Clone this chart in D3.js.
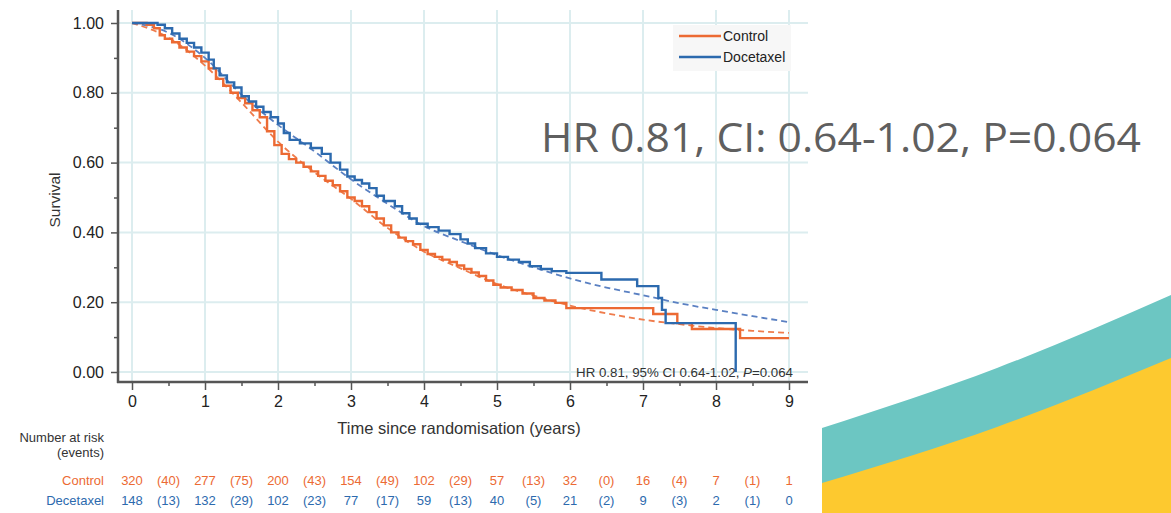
<!DOCTYPE html>
<html>
<head>
<meta charset="utf-8">
<script src="https://cdn.jsdelivr.net/npm/d3@7"></script>
<style>
  body { margin: 0; background: #fff; }
  svg { display: block; font-family: 'Liberation Sans', Arial, sans-serif; }
</style>
</head>
<body>
<svg id="chart" width="1171" height="513"></svg>
<script>
// Kaplan-Meier steps (years, survival)
let controlTimes = [0, 0.2, 0.3, 0.38, 0.45, 0.55, 0.65, 0.75, 0.85, 0.95, 1.05, 1.15, 1.25, 1.35, 1.45, 1.55, 1.65, 1.75, 1.85, 1.95, 2.05, 2.15, 2.25, 2.35, 2.45, 2.55, 2.65, 2.75, 2.85, 2.95, 3.05, 3.15, 3.25, 3.35, 3.45, 3.55, 3.65, 3.75, 3.85, 3.95, 4.05, 4.15, 4.25, 4.35, 4.45, 4.55, 4.65, 4.75, 4.85, 4.95, 5.05, 5.2, 5.35, 5.5, 5.65, 5.8, 5.95, 7.14, 7.47, 7.67, 8.33, 9.0]
let controlSurv = [1, 0.995, 0.985, 0.965, 0.955, 0.945, 0.93, 0.918, 0.905, 0.89, 0.87, 0.84, 0.82, 0.8, 0.785, 0.77, 0.75, 0.73, 0.69, 0.65, 0.625, 0.61, 0.6, 0.588, 0.575, 0.562, 0.548, 0.535, 0.518, 0.5, 0.49, 0.475, 0.458, 0.44, 0.42, 0.4, 0.385, 0.375, 0.366, 0.35, 0.338, 0.33, 0.322, 0.315, 0.305, 0.295, 0.285, 0.275, 0.262, 0.25, 0.242, 0.235, 0.225, 0.212, 0.205, 0.198, 0.183, 0.166, 0.14, 0.123, 0.097, 0.097]

let docetaxelTimes = [0, 0.35, 0.45, 0.55, 0.65, 0.75, 0.85, 0.95, 1.05, 1.12, 1.2, 1.3, 1.4, 1.5, 1.6, 1.7, 1.8, 1.9, 2.0, 2.08, 2.16, 2.3, 2.45, 2.6, 2.72, 2.85, 2.95, 3.05, 3.15, 3.25, 3.35, 3.45, 3.6, 3.7, 3.8, 3.9, 4.05, 4.2, 4.35, 4.5, 4.6, 4.7, 4.85, 5.0, 5.15, 5.3, 5.45, 5.6, 5.75, 5.95, 6.43, 6.92, 7.21, 7.26, 7.31, 8.27]
let docetaxelSurv = [1, 0.995, 0.985, 0.97, 0.955, 0.943, 0.93, 0.915, 0.895, 0.87, 0.85, 0.83, 0.815, 0.79, 0.775, 0.76, 0.745, 0.73, 0.712, 0.685, 0.665, 0.655, 0.642, 0.625, 0.6, 0.58, 0.56, 0.55, 0.54, 0.527, 0.505, 0.49, 0.475, 0.455, 0.44, 0.425, 0.415, 0.405, 0.395, 0.38, 0.368, 0.355, 0.34, 0.33, 0.322, 0.315, 0.303, 0.295, 0.289, 0.284, 0.265, 0.246, 0.212, 0.178, 0.14, 0]

// fitted (dashed) curves
let fitTimes = [0, 0.5, 1, 1.5, 2, 2.5, 3, 3.5, 4, 4.5, 5, 5.5, 6, 6.5, 7, 7.5, 8, 8.5, 9]
let controlFit = [1, 0.958, 0.878, 0.772, 0.66, 0.572, 0.496, 0.413, 0.345, 0.297, 0.252, 0.219, 0.19, 0.168, 0.15, 0.137, 0.126, 0.118, 0.112]
let docetaxelFit = [1, 0.972, 0.9, 0.795, 0.708, 0.632, 0.552, 0.482, 0.418, 0.375, 0.335, 0.3, 0.268, 0.242, 0.22, 0.197, 0.178, 0.16, 0.143]

// number at risk table
let riskYears = [0, 1, 2, 3, 4, 5, 6, 7, 8, 9]
let controlAtRisk = [320, 277, 200, 154, 102, 57, 32, 16, 7, 1]
let controlEvents = [40, 75, 43, 49, 29, 13, 0, 4, 1]
let docetaxelAtRisk = [148, 132, 102, 77, 59, 40, 21, 9, 2, 0]
let docetaxelEvents = [13, 29, 23, 17, 13, 5, 2, 3, 1]

let yTicks = [0, 0.2, 0.4, 0.6, 0.8, 1.0]
let yMinor = [0.1, 0.3, 0.5, 0.7, 0.9]
let xMinor = [0.5, 1.5, 2.5, 3.5, 4.5, 5.5, 6.5, 7.5, 8.5]

let orange = '#ec6a33'
let blue = '#2c6aae'

let svg = d3.select('#chart')

let xPositionScale = d3.scaleLinear().domain([0, 9]).range([132, 789])
let yPositionScale = d3.scaleLinear().domain([0, 1]).range([372, 23])

let plotLeft = 118
let plotRight = 808
let plotTop = 10
let plotBottom = 382

// decorative swoosh in the corner
let swoosh = d3.line().curve(d3.curveNatural)
let tealTop = [[822, 428], [997, 368], [1171, 295]]
let yellowTop = [[822, 483], [997, 427], [1171, 358]]
svg.append('path')
  .attr('d', swoosh(tealTop) + 'L1171,513L822,513Z')
  .attr('fill', '#6cc6c2')
svg.append('path')
  .attr('d', swoosh(yellowTop) + 'L1171,513L822,513Z')
  .attr('fill', '#fdc92f')

// grid
svg.append('g')
  .selectAll('line')
  .data(riskYears)
  .enter()
  .append('line')
  .attr('x1', d => xPositionScale(d))
  .attr('x2', d => xPositionScale(d))
  .attr('y1', plotTop)
  .attr('y2', plotBottom)
  .attr('stroke', '#dcedef')
  .attr('stroke-width', 2)

svg.append('g')
  .selectAll('line')
  .data(yTicks)
  .enter()
  .append('line')
  .attr('x1', plotLeft)
  .attr('x2', plotRight)
  .attr('y1', d => yPositionScale(d))
  .attr('y2', d => yPositionScale(d))
  .attr('stroke', '#dcedef')
  .attr('stroke-width', 2)

// legend box
svg.append('rect')
  .attr('x', 673)
  .attr('y', 25)
  .attr('width', 118)
  .attr('height', 46)
  .attr('fill', '#f7f7f7')

// curves
let step = d3.line()
  .x(d => xPositionScale(d[0]))
  .y(d => yPositionScale(d[1]))
  .curve(d3.curveStepAfter)

let smooth = d3.line()
  .x(d => xPositionScale(d[0]))
  .y(d => yPositionScale(d[1]))
  .curve(d3.curveMonotoneX)

svg.append('path')
  .datum(d3.zip(fitTimes, controlFit))
  .attr('d', smooth)
  .attr('fill', 'none')
  .attr('stroke', '#ef7c4c')
  .attr('stroke-width', 1.8)
  .attr('stroke-dasharray', '6 4')

svg.append('path')
  .datum(d3.zip(fitTimes, docetaxelFit))
  .attr('d', smooth)
  .attr('fill', 'none')
  .attr('stroke', '#5a80c2')
  .attr('stroke-width', 1.8)
  .attr('stroke-dasharray', '6 4')

svg.append('path')
  .datum(d3.zip(controlTimes, controlSurv))
  .attr('d', step)
  .attr('fill', 'none')
  .attr('stroke', orange)
  .attr('stroke-width', 2.4)

svg.append('path')
  .datum(d3.zip(docetaxelTimes, docetaxelSurv))
  .attr('d', step)
  .attr('fill', 'none')
  .attr('stroke', blue)
  .attr('stroke-width', 2.4)

// axes
let yAxis = d3.axisLeft(yPositionScale)
  .tickValues(yTicks)
  .tickFormat(d3.format('.2f'))
  .tickSize(7)
  .tickPadding(7)
let yAxisG = svg.append('g')
  .attr('transform', `translate(${plotLeft},0)`)
  .call(yAxis)
yAxisG.select('.domain').remove()
yAxisG.selectAll('line').attr('stroke', '#555').attr('stroke-width', 1.5)
yAxisG.selectAll('text').attr('font-size', 16).attr('fill', '#222').attr('font-family', 'Liberation Sans, Arial, sans-serif')

let yMinorAxis = d3.axisLeft(yPositionScale).tickValues(yMinor).tickSize(4).tickFormat('')
let yMinorG = svg.append('g').attr('transform', `translate(${plotLeft},0)`).call(yMinorAxis)
yMinorG.select('.domain').remove()
yMinorG.selectAll('line').attr('stroke', '#555').attr('stroke-width', 1.5)

let xAxis = d3.axisBottom(xPositionScale)
  .tickValues(riskYears)
  .tickFormat(d3.format('d'))
  .tickSize(8)
  .tickPadding(6)
let xAxisG = svg.append('g')
  .attr('transform', `translate(0,${plotBottom})`)
  .call(xAxis)
xAxisG.select('.domain').remove()
xAxisG.selectAll('line').attr('stroke', '#555').attr('stroke-width', 1.5)
xAxisG.selectAll('text').attr('font-size', 16).attr('fill', '#222').attr('font-family', 'Liberation Sans, Arial, sans-serif')

let xMinorAxis = d3.axisBottom(xPositionScale).tickValues(xMinor).tickSize(4).tickFormat('')
let xMinorG = svg.append('g').attr('transform', `translate(0,${plotBottom})`).call(xMinorAxis)
xMinorG.select('.domain').remove()
xMinorG.selectAll('line').attr('stroke', '#555').attr('stroke-width', 1.5)

svg.append('line')
  .attr('x1', plotLeft).attr('x2', plotLeft)
  .attr('y1', plotTop).attr('y2', plotBottom + 1)
  .attr('stroke', '#555').attr('stroke-width', 2.5)
svg.append('line')
  .attr('x1', plotLeft - 1).attr('x2', plotRight)
  .attr('y1', plotBottom).attr('y2', plotBottom)
  .attr('stroke', '#555').attr('stroke-width', 2.5)

// axis titles
svg.append('text')
  .attr('transform', 'translate(60,200) rotate(-90)')
  .attr('text-anchor', 'middle')
  .attr('font-size', 15.5)
  .attr('fill', '#333')
  .text('Survival')

svg.append('text')
  .attr('x', 459)
  .attr('y', 434)
  .attr('text-anchor', 'middle')
  .attr('font-size', 16.5)
  .attr('fill', '#333')
  .text('Time since randomisation (years)')

// legend
let legendItems = [['Control', orange, 36], ['Docetaxel', blue, 57]]
legendItems.forEach(([label, color, ly]) => {
  svg.append('line')
    .attr('x1', 679).attr('x2', 721)
    .attr('y1', ly).attr('y2', ly)
    .attr('stroke', color).attr('stroke-width', 2.4)
  svg.append('text')
    .attr('x', 723).attr('y', ly + 5)
    .attr('font-size', 14)
    .attr('fill', '#222')
    .text(label)
})

// small HR note inside the plot
let note = svg.append('text')
  .attr('x', 793)
  .attr('y', 377)
  .attr('text-anchor', 'end')
  .attr('font-size', 13.3)
  .attr('fill', '#333')
note.append('tspan').text('HR 0.81, 95% CI 0.64-1.02, ')
note.append('tspan').attr('font-style', 'italic').text('P')
note.append('tspan').text('=0.064')

// big headline
svg.append('text')
  .attr('x', 541)
  .attr('y', 152)
  .attr('font-family', 'Open Sans, sans-serif')
  .attr('font-size', 41)
  .attr('fill', '#5f5f5f')
  .attr('textLength', 600)
  .attr('lengthAdjust', 'spacingAndGlyphs')
  .text('HR 0.81, CI: 0.64-1.02, P=0.064')

// number at risk table
svg.append('text')
  .attr('x', 104).attr('y', 442)
  .attr('text-anchor', 'end').attr('font-size', 13).attr('fill', '#333')
  .text('Number at risk')
svg.append('text')
  .attr('x', 104).attr('y', 457)
  .attr('text-anchor', 'end').attr('font-size', 13).attr('fill', '#333')
  .text('(events)')

let rows = [
  ['Control', controlAtRisk, controlEvents, orange, 485],
  ['Decetaxel', docetaxelAtRisk, docetaxelEvents, blue, 505]
]
rows.forEach(([label, atRisk, events, color, ry]) => {
  let g = svg.append('g').attr('font-size', 13).attr('fill', color)
  g.append('text').attr('x', 104).attr('y', ry).attr('text-anchor', 'end').text(label)
  g.selectAll('.n')
    .data(atRisk)
    .enter()
    .append('text')
    .attr('class', 'n')
    .attr('x', (d, i) => xPositionScale(riskYears[i]))
    .attr('y', ry)
    .attr('text-anchor', 'middle')
    .text(d => d)
  g.selectAll('.e')
    .data(events)
    .enter()
    .append('text')
    .attr('class', 'e')
    .attr('x', (d, i) => xPositionScale(riskYears[i] + 0.5))
    .attr('y', ry)
    .attr('text-anchor', 'middle')
    .text(d => `(${d})`)
})
</script>
</body>
</html>
